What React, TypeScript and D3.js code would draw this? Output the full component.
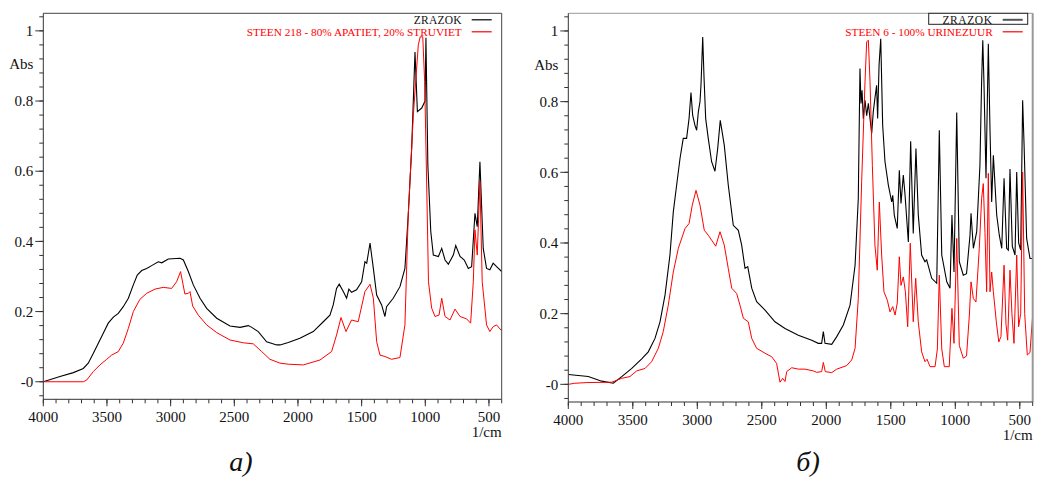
import React from 'react';
import * as d3 from 'd3';

// wavenumber (1/cm), absorbance
const zrazokA: [number, number][] = [
  [4000, 0.0], [3869, 0.015], [3764, 0.026], [3686, 0.038], [3647, 0.053], [3607, 0.081],
  [3568, 0.11], [3529, 0.138], [3490, 0.167], [3450, 0.184], [3411, 0.195], [3372, 0.214],
  [3332, 0.238], [3293, 0.276], [3262, 0.304], [3227, 0.317], [3188, 0.323], [3149, 0.331],
  [3097, 0.342], [3070, 0.339], [3018, 0.35], [2926, 0.352], [2900, 0.347], [2861, 0.314],
  [2822, 0.276], [2769, 0.238], [2717, 0.209], [2638, 0.181], [2534, 0.159], [2455, 0.155],
  [2390, 0.16], [2363, 0.155], [2312, 0.143], [2246, 0.114], [2167, 0.105], [2141, 0.105],
  [2076, 0.112], [1985, 0.124], [1880, 0.143], [1801, 0.171], [1749, 0.19], [1723, 0.219],
  [1697, 0.266], [1676, 0.278], [1644, 0.257], [1618, 0.238], [1600, 0.264], [1579, 0.255],
  [1540, 0.262], [1500, 0.285], [1474, 0.342], [1460, 0.338], [1434, 0.395], [1408, 0.323],
  [1382, 0.247], [1343, 0.219], [1317, 0.186], [1304, 0.214], [1252, 0.238], [1199, 0.271],
  [1160, 0.323], [1134, 0.475], [1107, 0.665], [1081, 0.94], [1062, 0.77], [1028, 0.78],
  [1002, 0.8], [995, 0.98], [980, 0.618], [957, 0.428], [937, 0.361], [897, 0.357],
  [871, 0.38], [845, 0.347], [819, 0.335], [780, 0.361], [761, 0.388], [727, 0.357],
  [694, 0.347], [662, 0.323], [636, 0.328], [610, 0.48], [592, 0.442], [571, 0.627],
  [545, 0.38], [519, 0.323], [493, 0.319], [467, 0.338], [440, 0.328], [400, 0.314],
];

const steen218: [number, number][] = [
  [4000, 0], [3686, 0], [3659, 0.005], [3607, 0.029], [3555, 0.048], [3502, 0.064],
  [3463, 0.076], [3411, 0.086], [3372, 0.11], [3332, 0.152], [3293, 0.2], [3241, 0.235],
  [3188, 0.252], [3123, 0.264], [3058, 0.269], [2992, 0.266], [2953, 0.285], [2922, 0.314],
  [2888, 0.25], [2861, 0.252], [2848, 0.257], [2827, 0.216], [2783, 0.19], [2717, 0.162],
  [2638, 0.14], [2534, 0.119], [2429, 0.111], [2351, 0.108], [2285, 0.086], [2220, 0.064],
  [2141, 0.053], [2076, 0.05], [1958, 0.048], [1827, 0.062], [1736, 0.086], [1697, 0.133],
  [1662, 0.183], [1623, 0.143], [1579, 0.176], [1527, 0.171], [1474, 0.257], [1434, 0.278],
  [1408, 0.238], [1382, 0.114], [1356, 0.076], [1317, 0.072], [1265, 0.064], [1199, 0.069],
  [1160, 0.162], [1134, 0.475], [1094, 0.76], [1055, 0.96], [1040, 0.983], [1020, 0.983],
  [1005, 0.855], [992, 0.618], [975, 0.285], [950, 0.21], [924, 0.186], [892, 0.19],
  [871, 0.238], [845, 0.186], [806, 0.176], [767, 0.207], [727, 0.186], [675, 0.179],
  [644, 0.167], [623, 0.285], [610, 0.433], [592, 0.361], [571, 0.57], [553, 0.285],
  [519, 0.162], [493, 0.143], [467, 0.157], [440, 0.162], [400, 0.145],
];

const zrazokB: [number, number][] = [
  [4000, 0.028], [3845, 0.022], [3741, 0.009], [3651, 0.003], [3586, 0.022], [3508, 0.045],
  [3431, 0.072], [3380, 0.092], [3328, 0.13], [3289, 0.177], [3250, 0.253], [3212, 0.366],
  [3186, 0.488], [3160, 0.564], [3134, 0.639], [3109, 0.696], [3083, 0.696], [3064, 0.752],
  [3049, 0.826], [3036, 0.762], [3018, 0.733], [3005, 0.719], [2992, 0.771], [2979, 0.8],
  [2971, 0.85], [2958, 0.983], [2948, 0.87], [2935, 0.752], [2915, 0.696], [2889, 0.63],
  [2863, 0.603], [2842, 0.667], [2822, 0.747], [2791, 0.677], [2760, 0.564], [2721, 0.45],
  [2682, 0.436], [2656, 0.394], [2630, 0.328], [2609, 0.333], [2578, 0.272], [2540, 0.234],
  [2475, 0.21], [2398, 0.177], [2320, 0.158], [2217, 0.139], [2113, 0.125], [2062, 0.116],
  [2036, 0.116], [2023, 0.149], [2010, 0.116], [1958, 0.113], [1919, 0.135], [1868, 0.168],
  [1816, 0.224], [1777, 0.337], [1752, 0.526], [1739, 0.894], [1731, 0.795], [1723, 0.832],
  [1713, 0.752], [1700, 0.804], [1687, 0.76], [1674, 0.795], [1661, 0.752], [1648, 0.71],
  [1636, 0.771], [1623, 0.81], [1610, 0.846], [1602, 0.752], [1591, 0.903], [1578, 0.978],
  [1563, 0.733], [1545, 0.63], [1519, 0.564], [1493, 0.516], [1485, 0.535], [1473, 0.479],
  [1450, 0.441], [1434, 0.606], [1421, 0.512], [1403, 0.592], [1390, 0.538], [1364, 0.403],
  [1346, 0.688], [1326, 0.427], [1305, 0.667], [1287, 0.48], [1261, 0.366], [1235, 0.347],
  [1222, 0.352], [1183, 0.3], [1144, 0.286], [1124, 0.719], [1105, 0.366], [1066, 0.29],
  [1041, 0.272], [1026, 0.479], [1010, 0.318], [989, 0.769], [969, 0.347], [938, 0.309],
  [913, 0.313], [886, 0.422], [878, 0.484], [860, 0.385], [834, 0.432], [809, 0.62],
  [796, 0.856], [787, 0.974], [778, 0.856], [762, 0.583], [744, 0.964], [731, 0.72],
  [718, 0.516], [705, 0.648], [679, 0.479], [659, 0.422], [640, 0.385], [622, 0.583],
  [602, 0.385], [589, 0.38], [576, 0.609], [558, 0.39], [537, 0.366], [524, 0.601],
  [509, 0.4], [493, 0.38], [478, 0.804], [467, 0.68], [447, 0.413], [421, 0.356], [400, 0.356],
];

const steen6: [number, number][] = [
  [4000, 0], [3950, 0.003], [3856, 0.005], [3664, 0.006], [3586, 0.017], [3522, 0.022],
  [3470, 0.038], [3405, 0.045], [3354, 0.064], [3302, 0.102], [3264, 0.149], [3225, 0.224],
  [3186, 0.318], [3147, 0.385], [3095, 0.441], [3064, 0.455], [3039, 0.507], [3010, 0.549],
  [2979, 0.507], [2946, 0.436], [2915, 0.422], [2889, 0.408], [2857, 0.391], [2824, 0.432],
  [2791, 0.394], [2760, 0.328], [2733, 0.272], [2695, 0.257], [2669, 0.224], [2643, 0.187],
  [2605, 0.177], [2578, 0.13], [2540, 0.102], [2475, 0.088], [2423, 0.078], [2385, 0.059],
  [2359, 0.006], [2338, 0.017], [2320, 0.008], [2307, 0.036], [2268, 0.047], [2217, 0.043],
  [2165, 0.043], [2101, 0.038], [2074, 0.034], [2036, 0.036], [2023, 0.062], [2008, 0.036],
  [1958, 0.033], [1919, 0.043], [1842, 0.053], [1803, 0.069], [1777, 0.102], [1752, 0.243],
  [1726, 0.573], [1700, 0.856], [1687, 0.969], [1674, 0.974], [1661, 0.856], [1643, 0.62],
  [1623, 0.394], [1605, 0.323], [1589, 0.516], [1571, 0.366], [1553, 0.262], [1527, 0.238],
  [1506, 0.205], [1485, 0.22], [1467, 0.196], [1450, 0.23], [1434, 0.361], [1421, 0.28],
  [1403, 0.304], [1387, 0.262], [1369, 0.163], [1349, 0.399], [1326, 0.177], [1307, 0.3],
  [1287, 0.177], [1261, 0.092], [1235, 0.064], [1219, 0.071], [1196, 0.05], [1157, 0.05],
  [1139, 0.1], [1124, 0.309], [1105, 0.1], [1085, 0.05], [1047, 0.05], [1026, 0.215],
  [1010, 0.116], [989, 0.413], [969, 0.11], [938, 0.074], [913, 0.08], [891, 0.196],
  [878, 0.29], [860, 0.243], [840, 0.233], [814, 0.385], [796, 0.526], [783, 0.568],
  [770, 0.43], [757, 0.262], [744, 0.597], [731, 0.262], [718, 0.318], [705, 0.262],
  [682, 0.177], [663, 0.12], [646, 0.135], [622, 0.337], [607, 0.17], [594, 0.125],
  [576, 0.323], [561, 0.2], [545, 0.116], [524, 0.366], [509, 0.163], [493, 0.2],
  [478, 0.601], [462, 0.2], [442, 0.083], [421, 0.09], [400, 0.196],
];

const xMajorTicks = [4000, 3500, 3000, 2500, 2000, 1500, 1000, 500];
const yMajorTicks = [0, 0.2, 0.4, 0.6, 0.8, 1];
const yTickLabels = ['-0', '0.2', '0.4', '0.6', '0.8', '1'];
const legendA = ['ZRAZOK', 'STEEN 218 - 80% APATIET, 20% STRUVIET'];
const legendB = ['ZRAZOK', 'STEEN 6 - 100% URINEZUUR'];

const FONT = '"Liberation Serif", "Times New Roman", serif';

type PanelProps = {
  left: number;
  right: number;
  top: number;
  bottom: number;
  sample: [number, number][];
  reference: [number, number][];
  legend: string[];
  boxed: boolean;
  caption: string;
  captionX: number;
  frameColor: string;
};

function Panel({
  left, right, top, bottom, sample, reference, legend, boxed, caption, captionX, frameColor,
}: PanelProps) {
  const x = d3.scaleLinear().domain([4000, 400]).range([left, right]);
  const y = d3.scaleLinear().domain([-0.05, 1.05]).range([bottom, top]);
  const line = d3
    .line<[number, number]>()
    .x((d) => x(d[0]))
    .y((d) => y(d[1]));

  const xMinor = d3.range(4000, 399, -100);
  const yMinor = d3.range(-0.04, 1.05, 0.04);

  return (
    <g fontFamily={FONT}>
      <defs>
        <clipPath id={`clip-${left}`}>
          <rect x={left} y={top} width={right - left} height={bottom - top} />
        </clipPath>
      </defs>

      <g clipPath={`url(#clip-${left})`} fill="none">
        <path d={line(sample) ?? ''} stroke="#000" strokeWidth={1.1} />
        <path d={line(reference) ?? ''} stroke="#ff0000" strokeWidth={1} />
      </g>

      {/* frame */}
      <line x1={left} x2={right} y1={top} y2={top} stroke={frameColor} />
      <line x1={right} x2={right} y1={top} y2={bottom} stroke={frameColor} strokeWidth={boxed ? 2 : 1} />
      <line x1={left} x2={left} y1={top} y2={bottom} stroke="#333" />
      <line x1={left} x2={right} y1={bottom} y2={bottom} stroke="#333" />

      {/* y ticks */}
      {yMinor.map((v) => (
        <line key={`ym${v}`} x1={left - 4} x2={left} y1={y(v)} y2={y(v)} stroke="#333" />
      ))}
      {yMajorTicks.map((v, i) => (
        <g key={`y${v}`}>
          <line x1={left - 8} x2={left} y1={y(v)} y2={y(v)} stroke="#333" />
          <text x={left - 10} y={y(v)} dy="0.35em" textAnchor="end" fontSize={15} fill="#111">
            {yTickLabels[i]}
          </text>
        </g>
      ))}
      <text x={left - 10} y={y(0.905)} dy="0.35em" textAnchor="end" fontSize={15} fill="#111">
        Abs
      </text>

      {/* x ticks */}
      {xMinor.map((v) => (
        <line key={`xm${v}`} x1={x(v)} x2={x(v)} y1={bottom} y2={bottom + 4} stroke="#333" />
      ))}
      {xMajorTicks.map((v) => (
        <g key={`x${v}`}>
          <line x1={x(v)} x2={x(v)} y1={bottom} y2={bottom + 7} stroke="#333" />
          <text x={x(v)} y={bottom + 23} textAnchor="middle" fontSize={15} fill="#111">
            {v}
          </text>
        </g>
      ))}
      <text x={right} y={bottom + 38} textAnchor="end" fontSize={15} fill="#111">
        1/cm
      </text>

      {/* legend */}
      {boxed && (
        <rect x={right - 104} y={top} width={99} height={11} fill="#fff" stroke="#222" />
      )}
      <text
        x={right - 40}
        y={top + 10.5}
        textAnchor="end"
        fontSize={11.5}
        letterSpacing={boxed ? 0.6 : 0.2}
        fill="#111"
      >
        {legend[0]}
      </text>
      <line
        x1={right - 30}
        x2={right - 10}
        y1={top + 6.5}
        y2={top + 6.5}
        stroke={boxed ? '#555' : '#000'}
        strokeWidth={boxed ? 2 : 1.2}
      />
      <text x={right - 40} y={top + 22.5} textAnchor="end" fontSize={11.3} fill="#ff0000">
        {legend[1]}
      </text>
      <line x1={right - 30} x2={right - 10} y1={top + 18.5} y2={top + 18.5} stroke="#ff0000" strokeWidth={1.2} />

      <text x={captionX} y={471} textAnchor="middle" fontSize={28} fontStyle="italic" fill="#111">
        {caption}
      </text>
    </g>
  );
}

export default function App() {
  return (
    <svg
      width={1038}
      height={477}
      style={{ position: 'absolute', left: 0, top: 0, background: '#fff' }}
    >
      <rect width={1038} height={477} fill="#fff" />
      <Panel
        left={43.3}
        right={501.7}
        top={13.3}
        bottom={399.3}
        sample={zrazokA}
        reference={steen218}
        legend={legendA}
        boxed={false}
        caption="a)"
        captionX={241}
        frameColor="#444"
      />
      <Panel
        left={568.3}
        right={1032.7}
        top={13.3}
        bottom={402}
        sample={zrazokB}
        reference={steen6}
        legend={legendB}
        boxed={true}
        caption="б)"
        captionX={808}
        frameColor="#999"
      />
    </svg>
  );
}
